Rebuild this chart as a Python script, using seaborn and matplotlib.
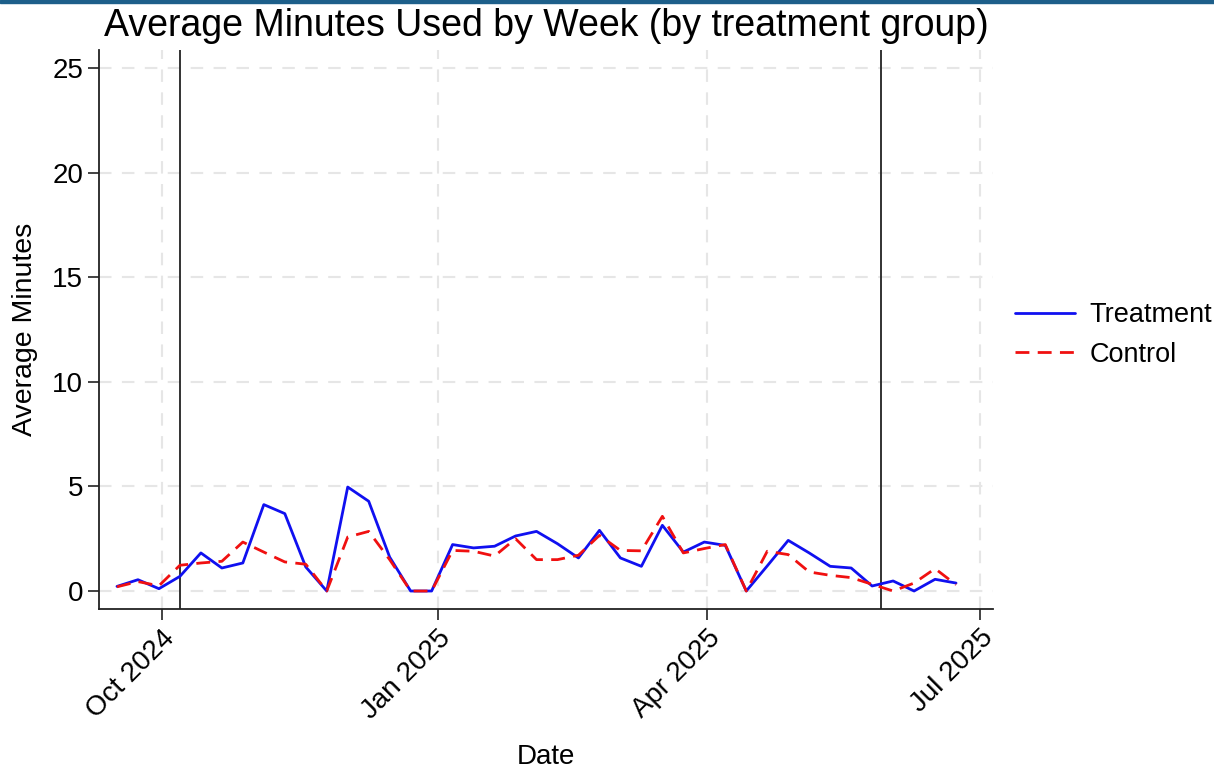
import pandas as pd
import numpy as np
import matplotlib
matplotlib.use('Agg')
import matplotlib.pyplot as plt
import matplotlib.dates as mdates
from matplotlib.patches import Rectangle
import seaborn as sns

# weekly averages
week_start = pd.date_range('2024-09-16', periods=41, freq='7D')
treatment = [0.22, 0.54, 0.11, 0.70, 1.82, 1.10, 1.34, 4.13, 3.70, 1.15, 0.0,
             4.97, 4.29, 1.62, 0.0, 0.0, 2.22, 2.06, 2.14, 2.63, 2.85, 2.26,
             1.58, 2.90, 1.58, 1.18, 3.14, 1.86, 2.34, 2.18, 0.0, 1.20, 2.42,
             1.82, 1.18, 1.10, 0.24, 0.48, 0.0, 0.56, 0.38]
control = [0.20, 0.45, 0.25, 1.23, 1.34, 1.42, 2.34, 1.86, 1.39, 1.28, 0.0,
           2.58, 2.85, 1.50, 0.0, 0.0, 1.94, 1.90, 1.67, 2.50, 1.50, 1.50,
           1.71, 2.66, 1.94, 1.92, 3.57, 1.82, 2.03, 2.22, 0.0, 1.90, 1.74,
           0.91, 0.75, 0.64, 0.32, 0.0, 0.38, 1.07, 0.30]
groups = ['Treatment', 'Control']
period_marks = ['2024-10-07', '2025-05-29']
tick_dates = ['2024-10-01', '2025-01-01', '2025-04-01', '2025-07-01']
y_ticks = [0, 5, 10, 15, 20, 25]

df = pd.concat([
    pd.DataFrame({'date': week_start, 'minutes': treatment, 'group': 'Treatment'}),
    pd.DataFrame({'date': week_start, 'minutes': control, 'group': 'Control'}),
])

sns.set_style('white')
plt.rcParams['font.family'] = ['Liberation Sans', 'DejaVu Sans']
for k in ['text.color', 'axes.labelcolor', 'xtick.color', 'ytick.color']:
    plt.rcParams[k] = 'black'

fig = plt.figure(figsize=(12.14, 7.7), dpi=100)
ax = fig.add_axes([99 / 1214, 1 - 609 / 770, (993 - 99) / 1214, (609 - 50) / 770])

# thin band along the top edge
fig.patches.append(Rectangle((0, 1 - 3 / 770), 1, 3 / 770, transform=fig.transFigure,
                             color='#1d5f8a', zorder=0))

sns.lineplot(data=df, x='date', y='minutes', hue='group', style='group',
             hue_order=groups, style_order=groups,
             palette={'Treatment': '#1010f0', 'Control': '#f01010'},
             dashes={'Treatment': '', 'Control': (5, 3)},
             linewidth=2.0, ax=ax)

for d in period_marks:
    ax.axvline(pd.Timestamp(d), color='#222222', lw=1.3, zorder=1)

ax.set_xlim(pd.Timestamp('2024-09-10'), pd.Timestamp('2025-07-05 08:00'))
ax.set_ylim(-0.86, 25.86)
ax.set_yticks(y_ticks)
ax.set_xticks([pd.Timestamp(d) for d in tick_dates])
ax.xaxis.set_major_formatter(mdates.DateFormatter('%b %Y'))
plt.setp(ax.get_xticklabels(), rotation=45, ha='right', rotation_mode='anchor')

ax.grid(True, color='#e6e6e6', linestyle=(0, (6, 5)), linewidth=1.5)
ax.set_axisbelow(True)
for s in ['top', 'right']:
    ax.spines[s].set_visible(False)
for s in ['left', 'bottom']:
    ax.spines[s].set_color('#222222')
    ax.spines[s].set_linewidth(1.3)
ax.tick_params(axis='both', which='major', labelsize=20, length=8, width=1.2,
               color='#222222', direction='out', bottom=True, left=True)

ax.set_title('Average Minutes Used by Week (by treatment group)', fontsize=27, pad=10)
ax.set_xlabel('Date', fontsize=20, labelpad=14)
ax.set_ylabel('Average Minutes', fontsize=20.5, labelpad=10)

handles, labels = ax.get_legend_handles_labels()
ax.legend(handles, labels, loc='center left', bbox_to_anchor=(1015 / 1214, 1 - 335 / 770),
          bbox_transform=fig.transFigure, frameon=False, fontsize=19.5,
          borderaxespad=0, borderpad=0,
          handlelength=2.2, handletextpad=0.55, labelspacing=0.5)

fig.savefig('out.png', dpi=100)
